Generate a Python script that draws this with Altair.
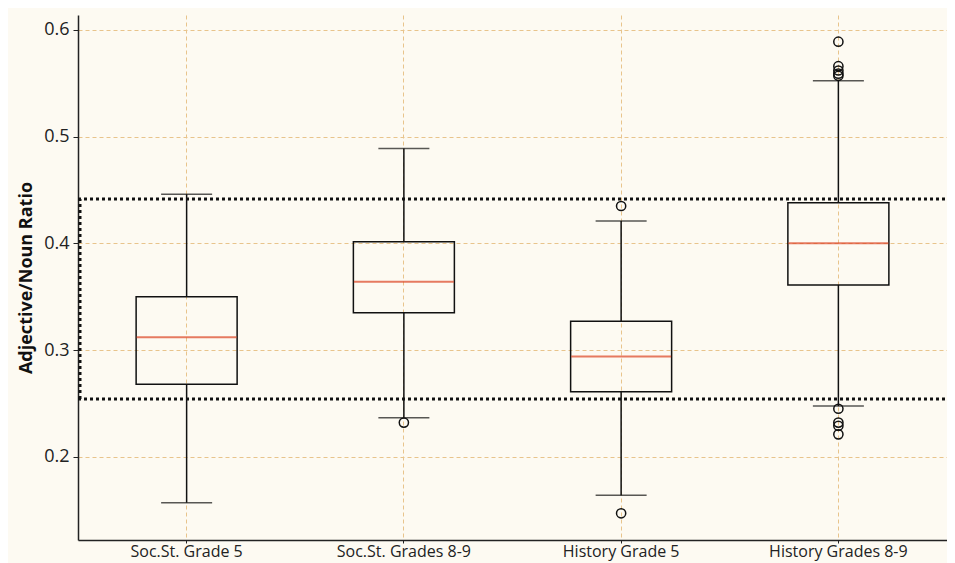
import altair as alt
import pandas as pd

groups = ["Soc.St. Grade 5", "Soc.St. Grades 8-9", "History Grade 5", "History Grades 8-9"]
whisk_lo = [0.157, 0.2365, 0.164, 0.2475]
q1 = [0.268, 0.335, 0.261, 0.361]
median = [0.312, 0.364, 0.294, 0.400]
q3 = [0.350, 0.4015, 0.327, 0.438]
whisk_hi = [0.446, 0.489, 0.421, 0.5525]

outlier_group = ["Soc.St. Grades 8-9", "History Grade 5", "History Grade 5",
                 "History Grades 8-9", "History Grades 8-9", "History Grades 8-9",
                 "History Grades 8-9", "History Grades 8-9", "History Grades 8-9",
                 "History Grades 8-9", "History Grades 8-9", "History Grades 8-9"]
outlier_value = [0.232, 0.435, 0.147,
                 0.589, 0.566, 0.562, 0.559, 0.557, 0.245, 0.232, 0.229, 0.221]

band_lo = [0.2542]
band_hi = [0.4416]

W, H = 869, 525
BG = "#fdfaf2"
GRID = "#e8c48c"

stats = pd.DataFrame({"group": groups, "lo": whisk_lo, "q1": q1, "med": median,
                      "q3": q3, "hi": whisk_hi})
outl = pd.DataFrame({"group": outlier_group, "value": outlier_value})
band = pd.DataFrame({"lo": band_lo, "hi": band_hi})

xs = alt.X("group:N", sort=groups,
           scale=alt.Scale(domain=groups, paddingInner=0, paddingOuter=0),
           axis=alt.Axis(title=None, labelAngle=0, labelFontSize=16, labelColor="#222",
                         labelPadding=0, grid=True, bandPosition=0.5, tickBand="center",
                         gridColor=GRID, gridDash=[4, 3], gridWidth=1,
                         domainColor="#222", domainWidth=1.5, tickColor="#222",
                         tickSize=3, labelFont="Open Sans"))
yscale = alt.Scale(domain=[0.122, 0.614], nice=False, zero=False)

def Y(field, axis=False):
    if axis:
        return alt.Y(f"{field}:Q", scale=yscale,
                     axis=alt.Axis(title="Adjective/Noun Ratio", values=[0.2, 0.3, 0.4, 0.5, 0.6],
                                   format=".1f", labelFontSize=18, labelColor="#222",
                                   labelFont="Open Sans", titleFont="Open Sans",
                                   titleFontSize=18, titleFontWeight="bold", titleColor="#111",
                                   titlePadding=8, grid=True, gridColor=GRID,
                                   gridDash=[4, 3], gridWidth=1, domainColor="#222",
                                   domainWidth=1.5, tickColor="#222", tickSize=5,
                                   labelPadding=4))
    return alt.Y(f"{field}:Q", scale=yscale)

base = alt.Chart(stats)

lower = base.mark_rule(color="#111", strokeWidth=1.5).encode(x=xs, y=Y("lo", True), y2="q1:Q")
upper = base.mark_rule(color="#111", strokeWidth=1.5).encode(x=xs, y=Y("q3"), y2="hi:Q")
box = base.mark_bar(size=101, fillOpacity=0, stroke="#111", strokeWidth=1.5).encode(
    x=xs, y=Y("q1"), y2="q3:Q")
cap_lo = base.mark_tick(size=51, thickness=1.5, color="#111", orient="horizontal").encode(x=xs, y=Y("lo"))
cap_hi = base.mark_tick(size=51, thickness=1.5, color="#111", orient="horizontal").encode(x=xs, y=Y("hi"))
med = base.mark_tick(size=100, thickness=2, color="#dc4322", orient="horizontal").encode(x=xs, y=Y("med"))

pts = alt.Chart(outl).mark_point(shape="circle", filled=False, size=85, color="#111",
                                 strokeWidth=1.5, opacity=1).encode(x=xs, y=Y("value"))

ref_lo = alt.Chart(band).mark_rule(color="#111", strokeWidth=3, strokeDash=[3, 3]).encode(
    y=Y("lo"), x=alt.value(0), x2=alt.value(W + 2))
ref_hi = alt.Chart(band).mark_rule(color="#111", strokeWidth=3, strokeDash=[3, 3]).encode(
    y=Y("hi"), x=alt.value(0), x2=alt.value(W + 2))
ref_v = alt.Chart(band).mark_rule(color="#111", strokeWidth=3, strokeDash=[3, 3]).encode(
    x=alt.value(2), y=Y("lo"), y2="hi:Q")

chart = alt.layer(lower, upper, box, cap_lo, cap_hi, med, pts, ref_lo, ref_hi, ref_v).properties(
    width=W, height=H, background=BG,
    padding={"left": 70, "top": 7, "right": 0, "bottom": 23},
    autosize=alt.AutoSizeParams(type="none")
).configure_view(stroke=None)

chart.save("out.html", embed_options={"renderer": "svg", "actions": False})
